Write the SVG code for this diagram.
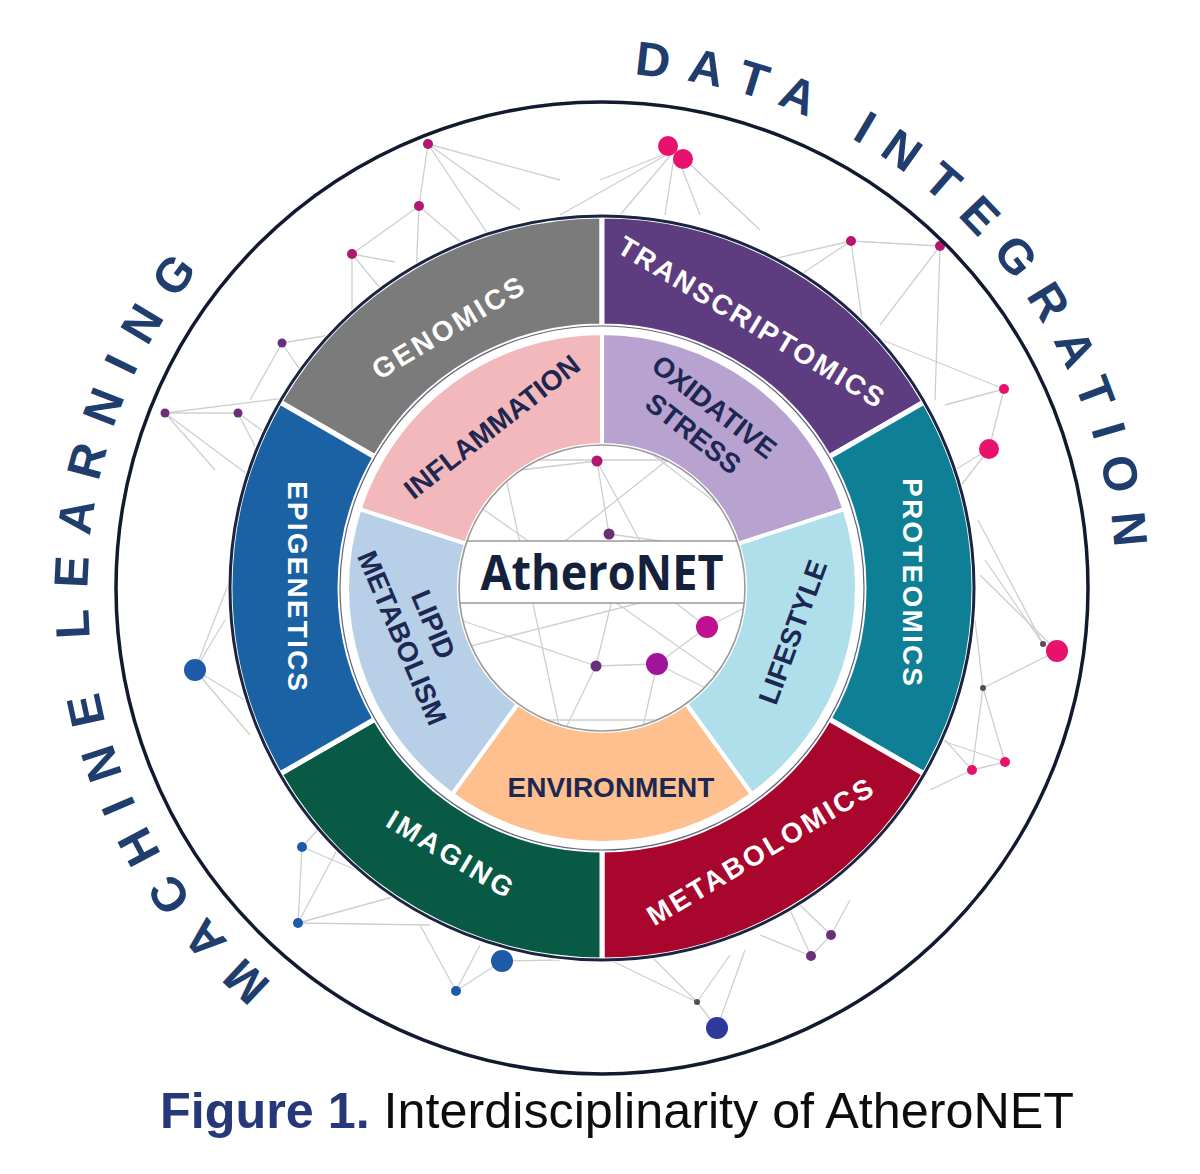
<svg xmlns="http://www.w3.org/2000/svg" width="1200" height="1174" viewBox="0 0 1200 1174">
<style>
.net line{stroke:#cfcfcf;stroke-width:1.3}
.mg{fill:#b3176f}.pk{fill:#e8126c}.pu{fill:#6a2f78}.bl{fill:#1d5aa8}.db{fill:#2d3a9c}.gr{fill:#5a4a5a}
.seg{stroke:#ffffff;stroke-width:5}
.iseg{stroke:#ffffff;stroke-width:4}
.om{font-family:"Liberation Sans",Arial,sans-serif;font-weight:bold;font-size:28px;fill:#ffffff;text-anchor:middle;dominant-baseline:central}
.in{font-family:"Liberation Sans",Arial,sans-serif;font-weight:bold;font-size:28px;fill:#1c2752;text-anchor:middle;dominant-baseline:central}
.arc{font-family:"Liberation Sans",Arial,sans-serif;font-weight:bold;font-size:48px;fill:#1f3e6e}
.cap{font-family:"Liberation Sans",Arial,sans-serif;font-size:50.3px}
</style>
<defs>
<path id="ringpath" d="M602,74 A514,514 0 1 1 602,1102 A514,514 0 1 1 602,74"/>
<clipPath id="cclip"><circle cx="602" cy="588" r="143"/></clipPath>
</defs>
<rect width="1200" height="1174" fill="#ffffff"/>

<g id="connectors" class="net">
<line x1="428" y1="144" x2="419" y2="206"/><line x1="428" y1="144" x2="520" y2="210"/><line x1="428" y1="144" x2="505" y2="260"/><line x1="428" y1="144" x2="560" y2="180"/>
<line x1="419" y1="206" x2="352" y2="254"/><line x1="419" y1="206" x2="415" y2="300"/><line x1="419" y1="206" x2="470" y2="250"/>
<line x1="352" y1="254" x2="395" y2="262"/><line x1="352" y1="254" x2="352" y2="310"/><line x1="352" y1="254" x2="390" y2="300"/>
<line x1="282" y1="343" x2="330" y2="335"/><line x1="282" y1="343" x2="310" y2="385"/><line x1="282" y1="343" x2="250" y2="400"/>
<line x1="165" y1="413" x2="238" y2="413"/><line x1="165" y1="413" x2="310" y2="395"/><line x1="165" y1="413" x2="215" y2="470"/><line x1="165" y1="413" x2="255" y2="480"/>
<line x1="238" y1="413" x2="275" y2="440"/><line x1="238" y1="413" x2="262" y2="460"/>
<line x1="675" y1="150" x2="560" y2="215"/><line x1="675" y1="150" x2="620" y2="215"/><line x1="675" y1="150" x2="665" y2="215"/><line x1="675" y1="150" x2="700" y2="215"/><line x1="675" y1="150" x2="760" y2="230"/><line x1="675" y1="150" x2="600" y2="180"/>
<line x1="851" y1="241" x2="940" y2="246"/><line x1="851" y1="241" x2="760" y2="262"/><line x1="851" y1="241" x2="800" y2="275"/><line x1="851" y1="241" x2="862" y2="320"/>
<line x1="940" y1="246" x2="880" y2="325"/><line x1="940" y1="246" x2="935" y2="400"/>
<line x1="1004" y1="389" x2="989" y2="449"/><line x1="1004" y1="389" x2="870" y2="335"/><line x1="1004" y1="389" x2="945" y2="405"/>
<line x1="989" y1="449" x2="955" y2="470"/><line x1="989" y1="449" x2="950" y2="500"/>
<line x1="1057" y1="651" x2="1043" y2="644"/><line x1="1057" y1="651" x2="983" y2="688"/><line x1="1057" y1="651" x2="980" y2="575"/><line x1="1043" y1="644" x2="978" y2="520"/><line x1="1043" y1="644" x2="985" y2="560"/>
<line x1="983" y1="688" x2="1005" y2="762"/><line x1="983" y1="688" x2="972" y2="770"/><line x1="983" y1="688" x2="975" y2="620"/>
<line x1="1005" y1="762" x2="972" y2="770"/><line x1="972" y1="770" x2="930" y2="790"/><line x1="1005" y1="762" x2="940" y2="740"/><line x1="972" y1="770" x2="945" y2="740"/>
<line x1="831" y1="935" x2="811" y2="956"/><line x1="831" y1="935" x2="850" y2="900"/><line x1="831" y1="935" x2="800" y2="905"/>
<line x1="811" y1="956" x2="760" y2="935"/><line x1="811" y1="956" x2="790" y2="910"/>
<line x1="717" y1="1028" x2="697" y2="1002"/><line x1="717" y1="1028" x2="745" y2="950"/><line x1="697" y1="1002" x2="640" y2="945"/><line x1="697" y1="1002" x2="730" y2="955"/><line x1="697" y1="1002" x2="610" y2="960"/>
<line x1="502" y1="961" x2="456" y2="991"/><line x1="456" y1="991" x2="420" y2="925"/><line x1="456" y1="991" x2="480" y2="945"/><line x1="502" y1="961" x2="560" y2="960"/>
<line x1="298" y1="923" x2="302" y2="847"/><line x1="298" y1="923" x2="400" y2="895"/><line x1="298" y1="923" x2="345" y2="835"/><line x1="302" y1="847" x2="345" y2="800"/><line x1="302" y1="847" x2="380" y2="880"/><line x1="298" y1="923" x2="430" y2="925"/>
<line x1="195" y1="670" x2="225" y2="620"/><line x1="195" y1="670" x2="245" y2="700"/><line x1="195" y1="670" x2="250" y2="735"/><line x1="195" y1="670" x2="230" y2="580"/>
</g>

<g id="dots-outer">
<circle class="mg" cx="428" cy="144" r="5"/><circle class="mg" cx="419" cy="206" r="5"/><circle class="mg" cx="352" cy="254" r="5"/>
<circle class="pu" cx="282" cy="343" r="4.5"/><circle class="pu" cx="165" cy="413" r="4.5"/><circle class="pu" cx="238" cy="413" r="4.5"/>
<circle class="pk" cx="668" cy="146" r="10"/><circle class="pk" cx="683" cy="159" r="10"/>
<circle class="mg" cx="851" cy="241" r="5"/><circle class="mg" cx="940" cy="246" r="5"/><circle class="pk" cx="1004" cy="389" r="5"/><circle class="pk" cx="989" cy="449" r="10"/>
<circle class="pk" cx="1057" cy="651" r="11"/><circle class="gr" cx="1043" cy="644" r="3"/><circle class="gr" cx="983" cy="688" r="3"/>
<circle class="pk" cx="1005" cy="762" r="5"/><circle class="pk" cx="972" cy="770" r="5"/>
<circle class="pu" cx="831" cy="935" r="5"/><circle class="pu" cx="811" cy="956" r="5"/>
<circle class="db" cx="717" cy="1028" r="11"/><circle class="gr" cx="697" cy="1002" r="3"/>
<circle class="bl" cx="502" cy="961" r="11"/><circle class="bl" cx="456" cy="991" r="5"/>
<circle class="bl" cx="298" cy="923" r="5"/><circle class="bl" cx="302" cy="847" r="5"/>
<circle class="bl" cx="195" cy="670" r="11"/>
</g>

<circle id="outer-circle" cx="602" cy="588" r="486" fill="none" stroke="#111a2e" stroke-width="3.5"/>

<g id="genomics"><path class="seg" fill="#7b7b7b" d="M279.8,402 A372,372 0 0 1 602,216 L602,326 A262,262 0 0 0 375.1,457 Z"/><text class="om" transform="translate(448,328) rotate(-31)" textLength="172" lengthAdjust="spacing">GENOMICS</text></g>
<g id="transcriptomics"><path class="seg" fill="#5e3c80" d="M602,216 A372,372 0 0 1 924.2,402 L828.9,457 A262,262 0 0 0 602,326 Z"/><text class="om" transform="translate(751,322) rotate(31)" textLength="305" lengthAdjust="spacing">TRANSCRIPTOMICS</text></g>
<g id="proteomics"><path class="seg" fill="#0f7f96" d="M924.2,402 A372,372 0 0 1 924.2,774 L828.9,719 A262,262 0 0 0 828.9,457 Z"/><text class="om" transform="translate(912,582) rotate(90)" textLength="208" lengthAdjust="spacing">PROTEOMICS</text></g>
<g id="metabolomics"><path class="seg" fill="#a8062c" d="M924.2,774 A372,372 0 0 1 602,960 L602,850 A262,262 0 0 0 828.9,719 Z"/><text class="om" transform="translate(760,852) rotate(-31)" textLength="258" lengthAdjust="spacing">METABOLOMICS</text></g>
<g id="imaging"><path class="seg" fill="#085a45" d="M602,960 A372,372 0 0 1 279.8,774 L375.1,719 A262,262 0 0 0 602,850 Z"/><text class="om" transform="translate(450,854) rotate(31)" textLength="142" lengthAdjust="spacing" fill="#e4fff6">IMAGING</text></g>
<g id="epigenetics"><path class="seg" fill="#1b62a5" d="M279.8,774 A372,372 0 0 1 279.8,402 L375.1,457 A262,262 0 0 0 375.1,719 Z"/><text class="om" transform="translate(297,586) rotate(90)" textLength="210" lengthAdjust="spacing">EPIGENETICS</text></g>
<circle cx="602" cy="588" r="372" fill="none" stroke="#1b2440" stroke-width="3"/>
<circle cx="602" cy="588" r="262" fill="none" stroke="#1b2440" stroke-width="1.2" stroke-opacity="0.7"/>

<g id="inflammation"><path class="iseg" fill="#f2b8bb" d="M359.5,509.2 A255,255 0 0 1 602,333 L602,445 A143,143 0 0 0 466,543.8 Z"/><text class="in" transform="translate(492,427) rotate(-38)">INFLAMMATION</text></g>
<g id="oxidative-stress"><path class="iseg" fill="#b8a2cf" d="M602,333 A255,255 0 0 1 844.5,509.2 L738,543.8 A143,143 0 0 0 602,445 Z"/><text class="in" transform="translate(704,420) rotate(38)"><tspan x="0" y="-17">OXIDATIVE</tspan><tspan x="0" y="17">STRESS</tspan></text></g>
<g id="lifestyle"><path class="iseg" fill="#aedfea" d="M844.5,509.2 A255,255 0 0 1 751.9,794.3 L686.1,703.7 A143,143 0 0 0 738,543.8 Z"/><text class="in" transform="translate(793,632) rotate(-70)">LIFESTYLE</text></g>
<g id="environment"><path class="iseg" fill="#fdc08e" d="M751.9,794.3 A255,255 0 0 1 452.1,794.3 L517.9,703.7 A143,143 0 0 0 686.1,703.7 Z"/><text class="in" transform="translate(611,787)">ENVIRONMENT</text></g>
<g id="lipid-metabolism"><path class="iseg" fill="#b8cfe8" d="M452.1,794.3 A255,255 0 0 1 359.5,509.2 L466,543.8 A143,143 0 0 0 517.9,703.7 Z"/><text class="in" transform="translate(418,631) rotate(67)"><tspan x="0" y="-17">LIPID</tspan><tspan x="0" y="17">METABOLISM</tspan></text></g>

<g id="atheronet">
<circle cx="602" cy="588" r="143" fill="#ffffff"/>
<g clip-path="url(#cclip)">
<g class="net">
<line x1="597" y1="461" x2="609" y2="534"/><line x1="597" y1="461" x2="520" y2="470"/><line x1="597" y1="461" x2="650" y2="560"/>
<line x1="609" y1="534" x2="690" y2="545"/><line x1="470" y1="500" x2="740" y2="690"/><line x1="500" y1="450" x2="560" y2="730"/>
<line x1="707" y1="627" x2="657" y2="664"/><line x1="707" y1="627" x2="760" y2="600"/><line x1="707" y1="627" x2="620" y2="560"/>
<line x1="657" y1="664" x2="596" y2="666"/><line x1="657" y1="664" x2="640" y2="740"/><line x1="657" y1="664" x2="730" y2="700"/>
<line x1="596" y1="666" x2="560" y2="740"/><line x1="596" y1="666" x2="460" y2="620"/><line x1="596" y1="666" x2="612" y2="600"/>
<line x1="455" y1="650" x2="750" y2="575"/><line x1="520" y1="460" x2="700" y2="460"/><line x1="640" y1="445" x2="745" y2="525"/>
<line x1="680" y1="450" x2="560" y2="545"/><line x1="500" y1="720" x2="700" y2="720"/>
</g>
<rect x="455" y="541" width="294" height="62" fill="#ffffff"/>
</g>
<circle cx="602" cy="588" r="143" fill="none" stroke="#9a9a9a" stroke-width="1.6"/>
<line x1="466" y1="541" x2="738" y2="541" stroke="#9a9a9a" stroke-width="1.6"/>
<line x1="460" y1="603" x2="744" y2="603" stroke="#9a9a9a" stroke-width="1.6"/>
<circle class="mg" cx="597" cy="461" r="5.5"/><circle class="pu" cx="609" cy="534" r="5.5"/>
<circle fill="#c0108f" cx="707" cy="627" r="11"/><circle fill="#a0149a" cx="657" cy="664" r="11"/><circle class="pu" cx="596" cy="666" r="5.5"/>
<text x="602" y="590" font-family="'Open Sans','Noto Sans',sans-serif" font-weight="bold" font-size="49" fill="#14213d" text-anchor="middle" textLength="243" lengthAdjust="spacingAndGlyphs">AtheroNET</text>
</g>

<g id="outer-labels">
<text class="arc" letter-spacing="18"><textPath href="#ringpath" startOffset="32">DATA INTEGRATION</textPath></text>
<text class="arc" letter-spacing="20.3"><textPath href="#ringpath" startOffset="1972">MACHINE LEARNING</textPath></text>
</g>

<text id="caption" class="cap" x="160" y="1128"><tspan font-weight="bold" fill="#26387a">Figure 1.</tspan><tspan fill="#0d0d0d"> Interdisciplinarity of AtheroNET</tspan></text>
</svg>
